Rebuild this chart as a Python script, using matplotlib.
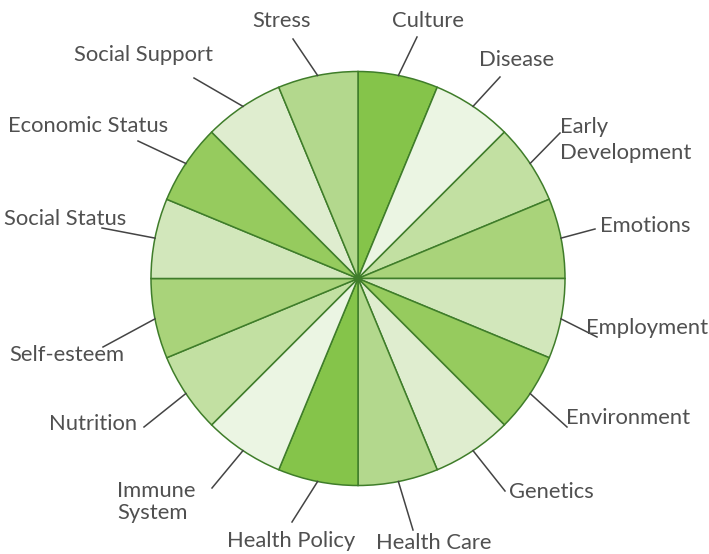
import numpy as np
import matplotlib
matplotlib.use('Agg')
import matplotlib.pyplot as plt

# slices, clockwise from the top
labels = ['Culture', 'Disease', 'Early\nDevelopment', 'Emotions', 'Employment',
          'Environment', 'Genetics', 'Health Care', 'Health Policy',
          'Immune\nSystem', 'Nutrition', 'Self-esteem', 'Social Status',
          'Economic Status', 'Social Support', 'Stress']
values = [1] * 16
colors = ['#85c44a', '#ebf5e3', '#c2e0a2', '#a9d37a', '#d2e7bb', '#96cb5e',
          '#dfedcf', '#b3d88d'] * 2

# label layout in pixels: text anchor x, y, alignment, leader end x, y
text_pos = [(428, 21, 'center'), (517, 60, 'center'), (560, 140, 'left'),
            (600, 226, 'left'), (586, 328, 'left'), (566, 418, 'left'),
            (509, 492, 'left'), (434, 543, 'center'), (291, 541, 'center'),
            (117, 502, 'left'), (137, 424, 'right'), (124, 355, 'right'),
            (126, 219, 'right'), (168, 126, 'right'), (213, 55, 'right'),
            (282, 21, 'center')]
leader_end = [(417, 37), (500, 77), (560, 133), (595, 229), (597, 337),
              (567, 427), (505, 491), (413, 530), (292, 522), (212, 488),
              (144, 427), (103, 347), (102, 228), (138, 141), (194, 78),
              (293, 39)]
line_gap = {'Early\nDevelopment': 1.4, 'Immune\nSystem': 1.15}

W, H = 709, 554
cx, cy, R = 358, 278.5, 207

fig = plt.figure(figsize=(W / 100, H / 100), dpi=100)
ax = fig.add_axes([0, 0, 1, 1])

# y axis inverted -> angles flip, so start at -90 and go counterclockwise in data
ax.pie(values, colors=colors, startangle=-90, counterclock=True,
       center=(cx, cy), radius=R,
       wedgeprops=dict(edgecolor='#3f7d2a', linewidth=1.1))

ax.set_xlim(0, W)
ax.set_ylim(H, 0)
ax.set_aspect('equal')
ax.axis('off')

n = len(values)
for i, lab in enumerate(labels):
    a = np.deg2rad(90 - (i + 0.5) * 360 / n)
    sx, sy = cx + R * np.cos(a), cy - R * np.sin(a)
    ex, ey = leader_end[i]
    ax.plot([sx, ex], [sy, ey], color='#444444', lw=1.1)
    tx, ty, ha = text_pos[i]
    ax.text(tx, ty, lab, ha=ha, va='center', fontsize=15.8, family='Lato',
            color='#505050', linespacing=line_gap.get(lab, 1.15))

fig.savefig('out.png', dpi=100)
